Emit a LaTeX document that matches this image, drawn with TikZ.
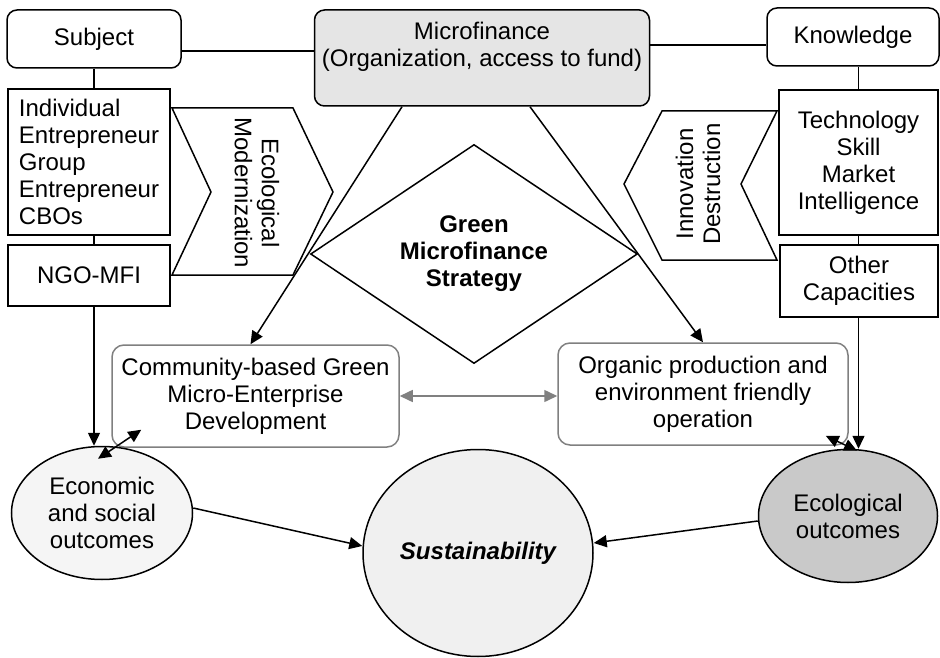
\documentclass[tikz,border=0pt]{standalone}
\usepackage{fontspec}
\setmainfont{Liberation Sans}
\usetikzlibrary{shapes.geometric,arrows.meta,positioning}

\tikzset{
  base/.style={font=\fontsize{24}{27}\selectfont, align=center, line width=1.5pt},
  titlebox/.style={base, draw, rounded corners=10pt, minimum width=174pt, minimum height=58pt},
  listbox/.style={base, draw, inner sep=7pt},
  devbox/.style={base, draw=gray, rounded corners=12pt, minimum width=287pt, minimum height=102pt},
  outcome/.style={base, draw, ellipse, inner sep=0pt},
  strategy/.style={base, draw, diamond, aspect=1.5, minimum width=327pt, minimum height=219pt,
    font=\fontsize{24}{27}\selectfont\bfseries},
  arrow/.style={-{Triangle[length=13pt,width=12pt]}, line width=1.5pt},
  dblarrow/.style={{Triangle[length=13pt,width=12pt]}-{Triangle[length=13pt,width=12pt]}, line width=1.5pt},
}

\begin{document}
\begin{tikzpicture}[x=1pt,y=-1pt,line width=1.5pt]
\useasboundingbox (0,0) rectangle (940,658);

% top row
\node[titlebox] (subj) at (94,39) {Subject};
\node[titlebox, fill=gray!20, minimum width=335pt, minimum height=96pt] (mf) at (482,58) {};
\node[base] (mftext) at (482,47) {Microfinance\\(Organization, access to fund)};
\node[titlebox, minimum width=172pt] (know) at (853,37) {Knowledge};

% side columns
\node[listbox, align=left, minimum width=162pt, minimum height=146pt] (indiv) at (89,162)
  {Individual\\Entrepreneur\\Group\\Entrepreneur\\CBOs};
\node[listbox, minimum width=162pt, minimum height=61pt] (ngo) at (89,275.5) {NGO-MFI};
\node[listbox, minimum width=159pt, minimum height=145pt] (tech) at (858.5,162.5)
  {Technology\\Skill\\Market\\Intelligence};
\node[listbox, minimum width=158pt, minimum height=72pt] (other) at (859,281) {Other\\Capacities};

% chevrons
\draw (172,108) -- (293,108) -- (333,192) -- (293,275) -- (172,275) -- (211,192) -- cycle;
\node[base, rotate=-90] (ecomod) at (257,193) {Ecological\\Modernization};
\draw (777,111) -- (662,111) -- (624,184) -- (662,260) -- (777,260) -- (741,184) -- cycle;
\node[base, rotate=90] (innov) at (698,184) {Innovation\\Destruction};

\node[strategy] (strat) at (474,254) {Green\\Microfinance\\Strategy};

\node[devbox] (com) at (255.5,396) {Community-based Green\\Micro-Enterprise\\Development};
\node[devbox, minimum width=290pt] (org) at (703,394) {Organic production and\\environment friendly\\operation};

% outcomes
\node[outcome, fill=gray!8, minimum width=181pt, minimum height=133pt] (econ) at (102,513)
  {Economic\\and social\\outcomes};
\node[outcome, fill=gray!12, minimum width=230pt, minimum height=207pt,
  font=\fontsize{24}{27}\selectfont\bfseries\itshape] (sust) at (478,553) {Sustainability};
\node[outcome, fill=gray!42, minimum width=179pt, minimum height=133pt] (eco) at (848,516)
  {Ecological\\outcomes};

\draw (subj.east |- 0,51) -- (mf.west |- 0,51);
\draw (mf.east |- 0,45) -- (know.west |- 0,45);
\draw (subj.south) -- (subj.south |- indiv.north);
\draw (indiv.south -| subj.south) -- (ngo.north -| subj.south);
\draw[arrow] (ngo.south -| subj.south) -- (econ.north -| subj.south);
\draw (tech.north) -- (tech.north |- know.south);
\draw (tech.south) -- (tech.south |- other.north);
\draw[arrow] (other.south -| tech.north) -- (eco.north -| tech.north);

\draw[arrow] ([xshift=-80pt]mf.south) -- ([xshift=-5pt]com.north);
\draw[arrow] ([xshift=48pt]mf.south) -- (org.north);
\draw[dblarrow, gray] (com.east) -- (com.east -| org.west);

\draw[dblarrow] ([shift={(-4,13)}]econ.north) -- ([shift={(30,-18)}]com.south west);
\draw[dblarrow] ([shift={(-23,-10)}]org.south east) -- ([shift={(9,2)}]eco.north);
\draw[arrow] ([yshift=5pt]econ.east) -- ([yshift=7pt]sust.west);
\draw[arrow] ([yshift=-5pt]eco.west) -- ([yshift=10pt]sust.east);
\end{tikzpicture}
\end{document}
